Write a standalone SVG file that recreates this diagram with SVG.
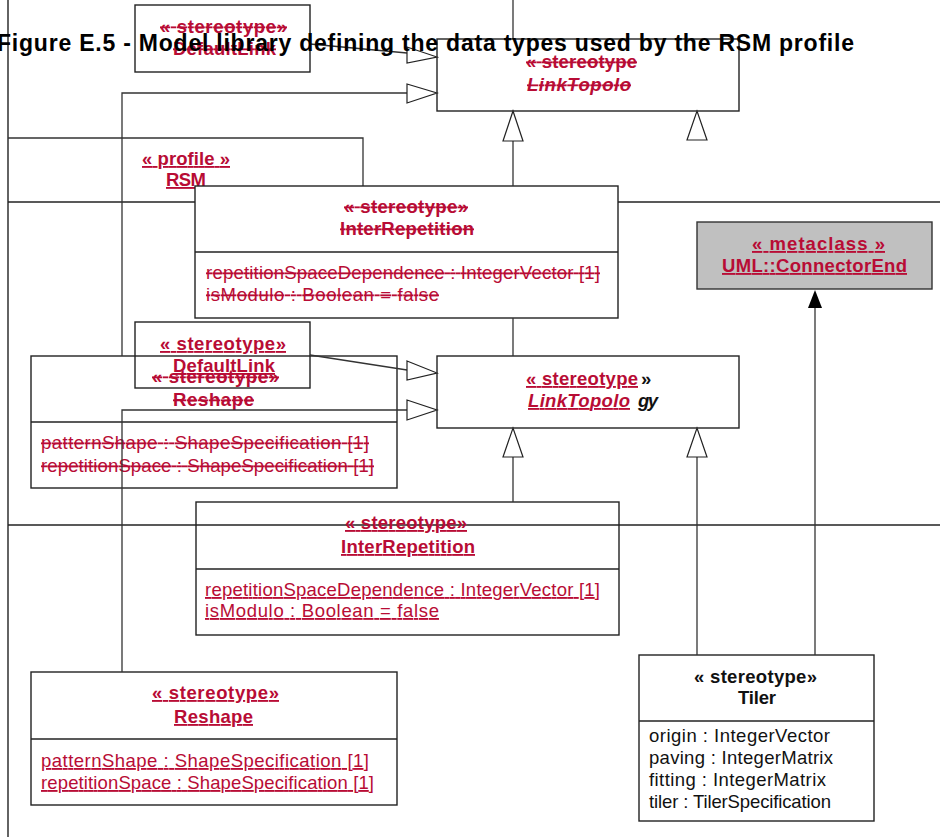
<svg xmlns="http://www.w3.org/2000/svg" width="940" height="837" viewBox="0 0 940 837">
<style>
text{font-family:"Liberation Sans",Arial,sans-serif}
.b{fill:none;stroke:#222;stroke-width:1.4}
.w{fill:#fff;stroke:#222;stroke-width:1.4}
.ln{fill:none;stroke:#333;stroke-width:1.3}
.fr{fill:none;stroke:#222;stroke-width:1.4}
.tri{fill:#fff;stroke:#222;stroke-width:1.2}
.st{font-size:18.5px;font-weight:bold;fill:#b80c35}
.at{font-size:18.5px;fill:#b80c35}
.bk{font-size:18.5px;font-weight:bold;fill:#111}
.ak{font-size:18.5px;fill:#111}
.del{text-decoration:line-through}
.ins{text-decoration:underline}
.it{font-style:italic}
</style>
<g id="frame">
<line class="fr" x1="8" y1="0" x2="8" y2="837"/>
<line class="fr" x1="8" y1="202" x2="940" y2="202"/>
<line class="fr" x1="8" y1="525" x2="940" y2="525"/>
</g>
<g id="profile-RSM">
<path class="ln" d="M8 138 H363 V202"/>
<text class="st ins" x="142" y="165" textLength="88">« profile »</text>
<text class="st ins" x="166" y="186" textLength="40">RSM</text>
</g>
<g id="node-DefaultLink-old">
<rect class="b" x="135" y="5" width="175" height="67"/>
<text class="st del" x="160" y="33" textLength="127">« stereotype»</text>
<text class="st del" x="173" y="55" textLength="103">DefaultLink</text>
</g>
<g id="node-LinkTopolo-old">
<rect class="b" x="437" y="39" width="302" height="72"/>
<text class="st del" x="526" y="68" textLength="111">« stereotype</text>
<text class="st del it" x="527" y="91" textLength="104">LinkTopolo</text>
</g>
<g id="node-InterRepetition-old">
<rect class="w" x="195" y="186" width="423" height="132"/>
<line class="b" x1="195" y1="252" x2="618" y2="252"/>
<text class="st del" x="344" y="213" textLength="124">« stereotype»</text>
<text class="st del" x="340" y="235" textLength="134">InterRepetition</text>
<text class="at del" x="206" y="279" textLength="394">repetitionSpaceDependence : IntegerVector [1]</text>
<text class="at del" x="206" y="301" textLength="233">isModulo : Boolean  = false</text>
</g>
<g id="node-ConnectorEnd">
<rect x="697" y="222" width="235" height="67" fill="#c0c0c0" stroke="#333" stroke-width="1.4"/>
<text class="st ins" x="752" y="250" textLength="133">« metaclass »</text>
<text class="st ins" x="722" y="272" textLength="185">UML::ConnectorEnd</text>
</g>
<g id="node-Reshape-old">
<rect class="b" x="31" y="356" width="366" height="132"/>
<line class="b" x1="31" y1="422" x2="397" y2="422"/>
<text class="st del" x="152" y="383" textLength="127">« stereotype»</text>
<text class="st del" x="173" y="406" textLength="81">Reshape</text>
<text class="at del" x="41" y="449" textLength="328">patternShape : ShapeSpecification [1]</text>
<text class="at del" x="41" y="472" textLength="333">repetitionSpace : ShapeSpecification [1]</text>
</g>
<g id="node-DefaultLink">
<rect class="b" x="135" y="322" width="175" height="66"/>
<text class="st ins" x="160" y="350" textLength="126">« stereotype»</text>
<text class="st ins" x="173" y="372" textLength="102">DefaultLink</text>
</g>
<g id="node-LinkTopology">
<rect class="b" x="437" y="356" width="302" height="72"/>
<text class="st ins" x="526" y="385" textLength="112">« stereotype</text>
<text class="bk" x="641" y="385"> »</text>
<text class="st ins it" x="528" y="407" textLength="102">LinkTopolo</text>
<text class="bk it" x="638" y="407" textLength="20">gy</text>
</g>
<g id="node-InterRepetition">
<rect class="b" x="196" y="502" width="423" height="133"/>
<line class="b" x1="196" y1="569" x2="619" y2="569"/>
<text class="st ins" x="345" y="529" textLength="122">« stereotype»</text>
<text class="st ins" x="341" y="553" textLength="134">InterRepetition</text>
<text class="at ins" x="205" y="596" textLength="395">repetitionSpaceDependence : IntegerVector [1]</text>
<text class="at ins" x="205" y="617" textLength="234">isModulo : Boolean  = false</text>
</g>
<g id="node-Reshape">
<rect class="b" x="31" y="672" width="366" height="133"/>
<line class="b" x1="31" y1="739" x2="397" y2="739"/>
<text class="st ins" x="152" y="699" textLength="127">« stereotype»</text>
<text class="st ins" x="174" y="723" textLength="79">Reshape</text>
<text class="at ins" x="41" y="767" textLength="328">patternShape : ShapeSpecification [1]</text>
<text class="at ins" x="41" y="789" textLength="333">repetitionSpace : ShapeSpecification [1]</text>
</g>
<g id="node-Tiler">
<rect class="w" x="639" y="655" width="235" height="166"/>
<line class="b" x1="639" y1="721" x2="874" y2="721"/>
<text class="bk" x="694" y="683" textLength="123">« stereotype»</text>
<text class="bk" x="738" y="704" textLength="38">Tiler</text>
<text class="ak" x="649" y="742" textLength="181">origin : IntegerVector</text>
<text class="ak" x="649" y="764" textLength="184">paving : IntegerMatrix</text>
<text class="ak" x="649" y="786" textLength="177">fitting : IntegerMatrix</text>
<text class="ak" x="649" y="808" textLength="182">tiler : TilerSpecification</text>
</g>
<g id="connectors">
<line class="ln" x1="513" y1="0" x2="513" y2="39"/>
<polyline class="ln" points="310,44 407,53"/>
<polygon class="tri" points="407,47 437,57 407,63"/>
<polyline class="ln" points="122,356 122,93 407,93"/>
<polygon class="tri" points="407,84 437,93 407,103"/>
<line class="ln" x1="513" y1="186" x2="513" y2="141"/>
<polygon class="tri" points="503,141 513,111 523,141"/>
<polygon class="tri" points="687,140 697,111 707,140"/>
<line class="ln" x1="513" y1="318" x2="513" y2="356"/>
<polyline class="ln" points="310,355 407,370"/>
<polygon class="tri" points="407,361 437,373 407,380"/>
<polyline class="ln" points="122,672 122,410 407,410"/>
<polygon class="tri" points="407,400 437,410 407,420"/>
<line class="ln" x1="513" y1="502" x2="513" y2="457"/>
<polygon class="tri" points="503,457 513,428 523,457"/>
<line class="ln" x1="697" y1="655" x2="697" y2="457"/>
<polygon class="tri" points="687,457 697,428 707,457"/>
<line class="ln" x1="815" y1="655" x2="815" y2="307"/>
<polygon points="808,308 815,290 822,308" fill="#000"/>
</g>
<g id="title">
<text x="-3" y="51" font-size="23" font-weight="bold" fill="#000" textLength="857">Figure E.5 - Model library defining the data types used by the RSM profile</text>
</g>
</svg>
